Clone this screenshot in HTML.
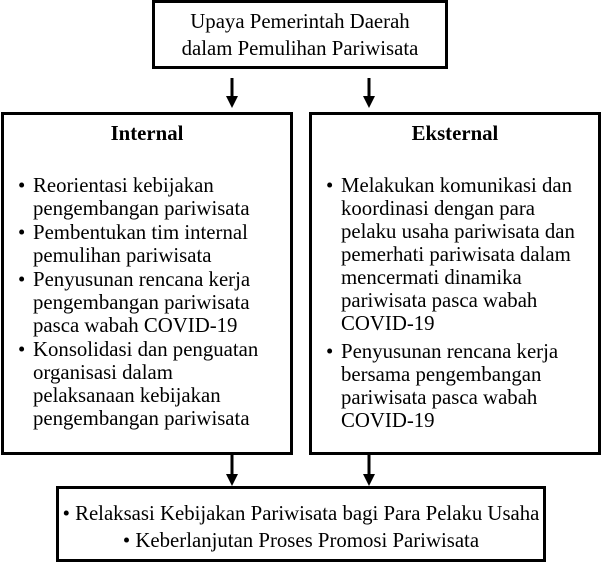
<!DOCTYPE html>
<html><head><style>
html,body{margin:0;padding:0;background:#fff;}
svg{display:block;}
text{font-family:"Liberation Serif",serif;font-size:20.8px;fill:#000;}
.b{font-weight:bold;}
</style></head><body>
<svg width="602" height="563" viewBox="0 0 602 563">
<g fill="none" stroke="#000" stroke-width="3">
<rect x="153.5" y="1.5" width="293" height="66"/>
<rect x="2.5" y="113.5" width="289" height="340"/>
<rect x="310.5" y="113.5" width="289" height="340"/>
<rect x="57.5" y="487.5" width="487" height="73"/>
<line x1="232" y1="78" x2="232" y2="97"/>
<line x1="369" y1="78" x2="369" y2="97"/>
<line x1="232" y1="455" x2="232" y2="476"/>
<line x1="369" y1="455" x2="369" y2="476"/>
</g>
<g fill="#000">
<polygon points="226,96 238,96 232,108"/>
<polygon points="363,96 375,96 369,108"/>
<polygon points="226,474 238,474 232,486"/>
<polygon points="363,474 375,474 369,486"/>
</g>
<text x="300" y="28" text-anchor="middle">Upaya Pemerintah Daerah</text>
<text x="300" y="55" text-anchor="middle">dalam Pemulihan Pariwisata</text>

<text x="147" y="140" text-anchor="middle" class="b">Internal</text>
<text x="455" y="140" text-anchor="middle" class="b">Eksternal</text>

<g>
<text x="18" y="192">•</text><text x="33" y="192">Reorientasi kebijakan</text>
<text x="33" y="215">pengembangan pariwisata</text>
<text x="18" y="239">•</text><text x="33" y="239">Pembentukan tim internal</text>
<text x="33" y="262">pemulihan pariwisata</text>
<text x="18" y="286">•</text><text x="33" y="286">Penyusunan rencana kerja</text>
<text x="33" y="309">pengembangan pariwisata</text>
<text x="33" y="332">pasca wabah COVID-19</text>
<text x="18" y="356">•</text><text x="33" y="356">Konsolidasi dan penguatan</text>
<text x="33" y="379">organisasi dalam</text>
<text x="33" y="402">pelaksanaan kebijakan</text>
<text x="33" y="425">pengembangan pariwisata</text>
</g>
<g>
<text x="326" y="192">•</text><text x="341" y="192">Melakukan komunikasi dan</text>
<text x="341" y="215">koordinasi dengan para</text>
<text x="341" y="238">pelaku usaha pariwisata dan</text>
<text x="341" y="261">pemerhati pariwisata dalam</text>
<text x="341" y="284">mencermati dinamika</text>
<text x="341" y="307">pariwisata pasca wabah</text>
<text x="341" y="330">COVID-19</text>
<text x="326" y="358">•</text><text x="341" y="358">Penyusunan rencana kerja</text>
<text x="341" y="381">bersama pengembangan</text>
<text x="341" y="404">pariwisata pasca wabah</text>
<text x="341" y="427">COVID-19</text>
</g>
<text x="301" y="520" text-anchor="middle">• Relaksasi Kebijakan Pariwisata bagi Para Pelaku Usaha</text>
<text x="301" y="547" text-anchor="middle">• Keberlanjutan Proses Promosi Pariwisata</text>
</svg>
</body></html>
